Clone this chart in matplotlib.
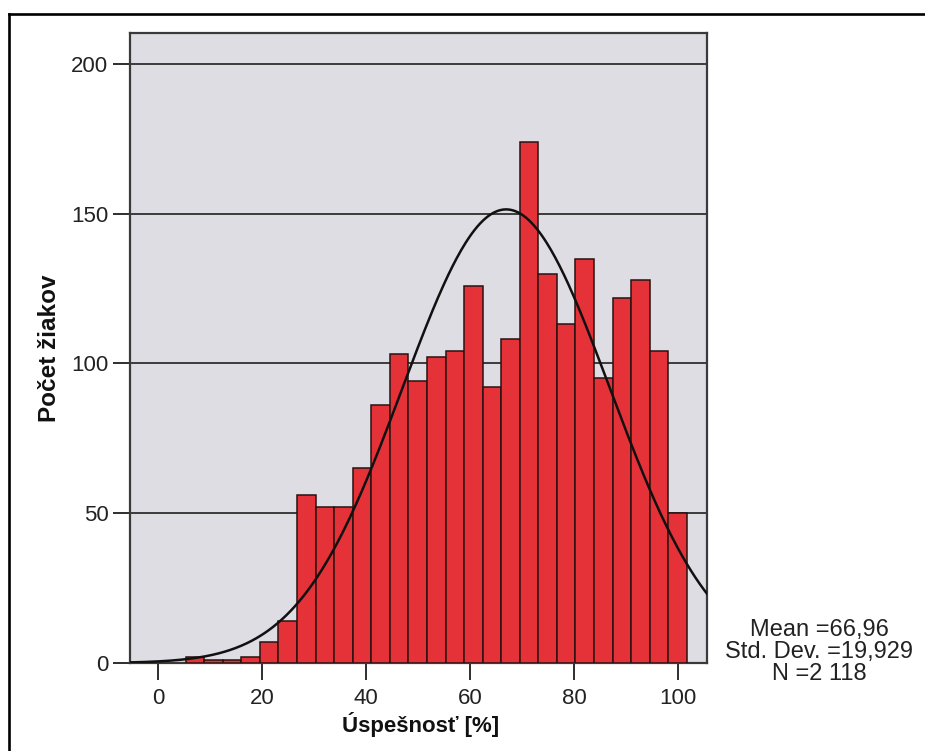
import numpy as np
import matplotlib
matplotlib.use("Agg")
import matplotlib.pyplot as plt
from matplotlib.lines import Line2D

# ---- data ----
counts = [2, 1, 1, 2, 7, 14, 56, 52, 52, 65, 86, 103, 94, 102, 104, 126,
          92, 108, 174, 130, 113, 135, 95, 122, 128, 104, 50]
bin_start = 5.3
bin_width = 3.5714
mean_val = 66.96
std_val = 19.929
n_total = 2118
x_ticks = [0, 20, 40, 60, 80, 100]
y_ticks = [0, 50, 100, 150, 200]
x_label = "Úspešnosť [%]"
y_label = "Počet žiakov"
stats_text = "Mean =66,96\nStd. Dev. =19,929\nN =2 118"

plt.rcParams['font.family'] = ['Liberation Sans', 'DejaVu Sans']

W, H = 925, 751
fig = plt.figure(figsize=(W / 100, H / 100), dpi=100)
fig.patch.set_facecolor('white')

l, r, t, b = 130, 707, 33, 663
ax = fig.add_axes([l / W, 1 - b / H, (r - l) / W, (b - t) / H])
ax.set_facecolor('#DDDDE3')

lefts = bin_start + bin_width * np.arange(len(counts))
ax.bar(lefts, counts, width=bin_width, align='edge', color='#E53238',
       edgecolor='#2a1212', linewidth=1.1, zorder=3)

xs = np.linspace(-5.4, 105.6, 400)
ys = n_total * bin_width / (std_val * np.sqrt(2 * np.pi)) * \
    np.exp(-0.5 * ((xs - mean_val) / std_val) ** 2)
ax.plot(xs, ys, color='#111111', linewidth=1.8, zorder=4)

ax.set_xlim(-5.4, 105.6)
ax.set_ylim(0, 210.3)
ax.set_xticks(x_ticks)
ax.set_yticks(y_ticks)
ax.yaxis.grid(True, color='#2e2e2e', linewidth=1.3, zorder=1)
ax.set_axisbelow(True)

for s in ax.spines.values():
    s.set_color('#3a3a3a')
    s.set_linewidth(1.6)

ax.tick_params(axis='both', direction='out', length=12, width=1.4,
               color='#2e2e2e', labelsize=16, labelcolor='#222222')
ax.tick_params(axis='y', pad=3.5)
ax.tick_params(axis='x', pad=6)

ax.set_xlabel(x_label, fontsize=16, fontweight='bold', color='#111111')
ax.set_ylabel(y_label, fontsize=17.5, fontweight='bold', color='#111111')
ax.xaxis.set_label_coords(0.504, -0.078)
ax.yaxis.set_label_coords((50 - l) / (r - l), 0.5)
ax.xaxis.label.set_va('top')
ax.yaxis.label.set_va('center')

fig.text(819 / W, 1 - 652 / H, stats_text, ha='center', va='center',
         fontsize=17, color='#222222', linespacing=1.0, multialignment='center')

# outer frame (left and top edges visible)
fx = 8.7 / W
fy = 1 - 14 / H
fig.add_artist(Line2D([fx, fx], [0, fy], transform=fig.transFigure,
                      color='black', linewidth=1.9))
fig.add_artist(Line2D([fx, 1], [fy, fy], transform=fig.transFigure,
                      color='black', linewidth=1.9))

fig.savefig('out.png', dpi=100)
